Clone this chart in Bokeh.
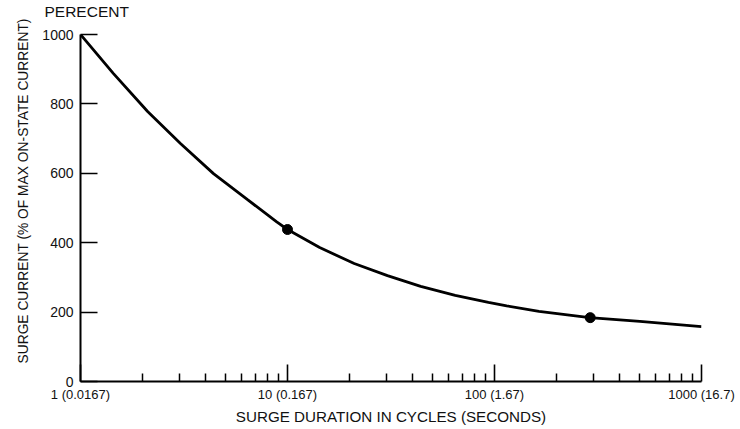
from bokeh.plotting import figure
from bokeh.models import Range1d, FixedTicker, Title
from bokeh.embed import file_html
from bokeh.resources import INLINE

# Data
cycles = [1, 1.44, 2.11, 3.04, 4.39, 6.41, 8.87, 10, 14.3, 21, 30.4, 44, 64.6, 93.5, 114.5, 164, 288, 504, 1000]
surge = [1000, 888, 778, 686, 599, 524, 460, 438, 386, 340, 305, 274, 248, 228, 218, 202, 184, 173, 158]
dot_cycles = [10, 290]
dot_surge = [438, 184]

x_major = [1, 10, 100, 1000]
x_minor = [2, 3, 4, 5, 6, 7, 8, 9, 20, 30, 40, 50, 60, 70, 80, 90,
           200, 300, 400, 500, 600, 700, 800, 900]
x_labels = ["1 (0.0167)", "10 (0.167)", "100 (1.67)", "1000 (16.7)"]
y_ticks = [0, 200, 400, 600, 800, 1000]

title_text = "PERECENT"
x_title = "SURGE DURATION IN CYCLES (SECONDS)"
y_title = "SURGE CURRENT (% OF MAX ON-STATE CURRENT)"

FONT = "Liberation Sans"
TXT = "#111111"

p = figure(width=740, height=429, x_axis_type="log",
           x_range=Range1d(1, 1000), y_range=Range1d(0, 1000),
           output_backend="svg", toolbar_location=None,
           min_border_left=80, min_border_right=39,
           min_border_top=34, min_border_bottom=48)
p.outline_line_color = None
p.grid.visible = False
p.background_fill_color = "white"
p.border_fill_color = "white"

p.title.text = title_text
p.title.text_font = FONT
p.title.text_font_size = "15.5px"
p.title.text_font_style = "normal"
p.title.text_color = TXT
p.title.align = "left"
p.title.vertical_align = "top"
p.title.offset = -36
p.title.standoff = 0

# small spacer between the frame and the title, lifting the title
p.add_layout(Title(text=" ", text_font_size="1px", standoff=10), "above")

xa = p.xaxis[0]
xa.ticker = FixedTicker(ticks=x_major, minor_ticks=x_minor)
xa.major_label_overrides = {t: l for t, l in zip(x_major, x_labels)}
xa.major_tick_in = 17
xa.major_tick_out = 0
xa.minor_tick_in = 8
xa.minor_tick_out = 0
xa.axis_line_width = 2
xa.major_tick_line_width = 1.6
xa.minor_tick_line_width = 1.5
xa.axis_line_color = "black"
xa.major_tick_line_color = "black"
xa.minor_tick_line_color = "black"
xa.major_label_text_font = FONT
xa.major_label_text_font_size = "13px"
xa.major_label_text_color = TXT
xa.major_label_standoff = 5
xa.axis_label = x_title
xa.axis_label_text_font = FONT
xa.axis_label_text_font_size = "15.2px"
xa.axis_label_text_font_style = "normal"
xa.axis_label_text_color = TXT
xa.axis_label_standoff = 3

ya = p.yaxis[0]
ya.ticker = FixedTicker(ticks=y_ticks, minor_ticks=[])
ya.major_tick_in = 17
ya.major_tick_out = 0
ya.minor_tick_line_color = None
ya.axis_line_width = 2
ya.major_tick_line_width = 1.6
ya.axis_line_color = "black"
ya.major_tick_line_color = "black"
ya.major_label_text_font = FONT
ya.major_label_text_font_size = "14px"
ya.major_label_text_color = TXT
ya.major_label_standoff = 7

# Rotated y title as a side title, so it can sit off-centre like the original
ytitle = Title(text=y_title, align="left", offset=18, standoff=18,
               text_font=FONT, text_font_size="13.8px",
               text_font_style="normal", text_color=TXT)
p.add_layout(ytitle, "left")

p.line(cycles, surge, line_color="black", line_width=2.8)
p.scatter(dot_cycles, dot_surge, size=10, color="black")

open("out.html", "w").write(file_html(p, INLINE))
